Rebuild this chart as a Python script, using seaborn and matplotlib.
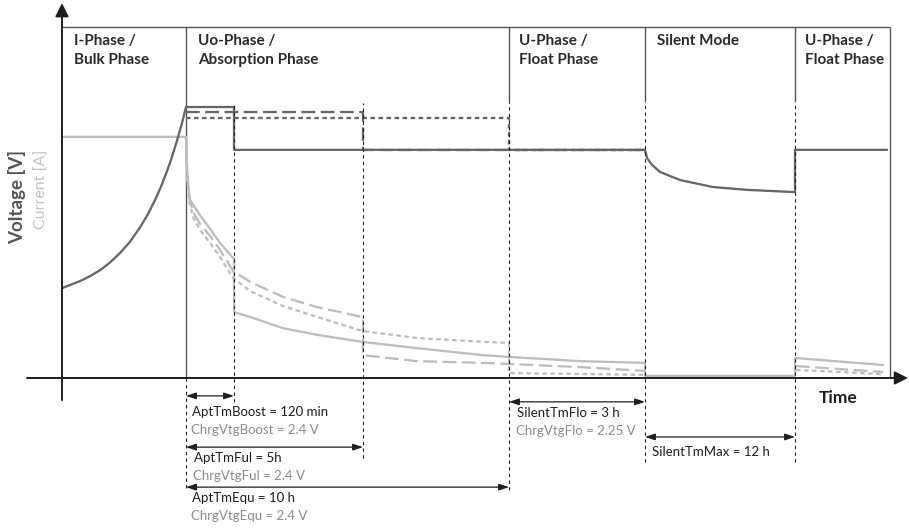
import numpy as np
import pandas as pd
import seaborn as sns
import matplotlib.pyplot as plt

# schematic chart: time in arbitrary units, level in % of the phase box height
t_start = 12.4      # end of bulk phase
t_boost = 17.2
t_ful = 30.1
t_equ = 44.7
t_flo = 58.3
t_silent = 73.3
t_box_end = 82.8

phase_titles = [
    ["I-Phase /", "Bulk Phase"],
    ["Uo-Phase /", "Absorption Phase"],
    ["U-Phase /", "Float Phase"],
    ["Silent Mode"],
    ["U-Phase /", "Float Phase"],
]

# voltage, boost program (solid) incl. bulk rise, float and silent mode
volt_boost_t = [0, 1.8, 2.8, 3.8, 4.8, 5.8, 6.8, 7.8, 8.6, 9.3, 9.9, 10.5,
                11.0, 11.5, 12.0, 12.4,
                17.2, 17.2, 58.3, 58.5, 59.0, 59.8, 61.8, 65.1, 68.5, 73.0, 73.3,
                73.3, 82.5]
volt_boost = [25.6, 27.6, 29.0, 30.7, 32.9, 35.6, 38.8, 42.9, 46.7, 50.7, 54.5, 58.9,
              63.0, 67.6, 72.6, 77.2,
              77.2, 65, 65, 62.7, 60.7, 58.7, 56.4, 54.4, 53.6, 53.0, 53.0,
              65, 65]
volt_ful_t = [12.4, 30.1, 30.1, 58.3]
volt_ful = [75.8, 75.8, 65, 65]
volt_equ_t = [12.4, 44.7, 44.7, 58.3]
volt_equ = [74.1, 74.1, 65, 65]

# current
curr_boost_t = [0, 12.4, 12.5, 12.6, 12.8, 13.8, 14.8, 15.8, 17.1, 17.2,
                17.2, 18.8, 22.1, 25.5, 30.0, 35.5, 42.1, 44.7, 51.8, 58.3,
                58.3, 73.3, 73.3, 82.1]
curr_boost = [68.7, 68.7, 60.7, 55.0, 50.7, 46.4, 42.5, 38.5, 34.2, 34.2,
              18.8, 17.4, 14.2, 12.3, 10.3, 8.5, 6.5, 6.0, 4.8, 4.3,
              0.6, 0.6, 5.7, 3.7]
curr_ful_t = [12.4, 12.5, 12.7, 13.1, 13.8, 14.8, 15.8, 17.1, 18.8, 22.1,
              25.5, 30.0, 30.1, 30.1, 35.5, 42.1, 44.7, 51.8, 58.3]
curr_ful = [68.7, 59.3, 52.1, 47.3, 43.9, 40.5, 36.5, 30.5, 27.4, 23.1,
            20.2, 17.4, 17.4, 6.5, 4.8, 4.3, 4.0, 3.1, 2.0]
curr_ful_after_t = [73.4, 82.1]
curr_ful_after = [3.4, 1.7]
curr_equ_t = [12.4, 12.5, 12.7, 13.1, 13.8, 14.8, 15.8, 17.1, 18.8, 22.1,
              25.5, 30.0, 35.5, 42.1, 44.7, 44.7, 58.3]
curr_equ = [68.7, 57.8, 50.7, 45.9, 42.2, 38.5, 34.5, 28.5, 24.8, 20.5,
            17.4, 13.4, 11.4, 10.3, 10.0, 1.4, 0.9]
curr_equ_after_t = [73.4, 82.1]
curr_equ_after = [2.3, 1.1]

labels_time = [
    ["AptTmBoost = 120 min", "ChrgVtgBoost = 2.4 V"],
    ["AptTmFul = 5h", "ChrgVtgFul = 2.4 V"],
    ["AptTmEqu = 10 h", "ChrgVtgEqu = 2.4 V"],
    ["SilentTmFlo = 3 h", "ChrgVtgFlo = 2.25 V"],
    ["SilentTmMax = 12 h"],
]

segments = [
    ("Voltage", "Boost", volt_boost_t, volt_boost),
    ("Voltage", "Ful", volt_ful_t, volt_ful),
    ("Voltage", "Equ", volt_equ_t, volt_equ),
    ("Current", "Boost", curr_boost_t, curr_boost),
    ("Current", "Ful", curr_ful_t, curr_ful),
    ("Current", "Ful", curr_ful_after_t, curr_ful_after),
    ("Current", "Equ", curr_equ_t, curr_equ),
    ("Current", "Equ", curr_equ_after_t, curr_equ_after),
]
frames = []
for i, (qty, prog, tt, vv) in enumerate(segments):
    frames.append(pd.DataFrame({"t": tt, "level": vv, "quantity": qty,
                                "program": prog, "seg": i}))
df = pd.concat(frames, ignore_index=True)

sns.set_theme(style="white")
plt.rcParams["font.family"] = ["Lato", "DejaVu Sans"]

dark = "#1e1e1e"
volt_col = "#676767"
curr_col = "#bdbdbd"
box_col = "#555555"

fig = plt.figure(figsize=(9.09, 5.28), dpi=100)
ax = fig.add_axes([0, 0, 1, 1])

# phase box
ax.hlines(100, 0, t_box_end, color=box_col, lw=1.0)
ax.vlines([t_start, t_box_end], 0, 100, color=box_col, lw=1.0)
ax.vlines([t_equ, t_flo, t_silent], 79, 100, color=box_col, lw=1.0)

sns.lineplot(data=df, x="t", y="level", hue="quantity", style="program",
             units="seg", estimator=None, sort=False, legend=False,
             palette={"Voltage": volt_col, "Current": curr_col},
             dashes={"Boost": "", "Ful": (6, 2.4), "Equ": (2.0, 1.5)},
             hue_order=["Current", "Voltage"],
             lw=1.65, ax=ax)

# guide lines
ax.vlines([t_start, t_boost, t_ful, t_equ, t_flo, t_silent],
          [-31.3, -6.8, -22.8, -32, -24, -24],
          [0, 78.3, 78.3, 79, 79, 79],
          color=dark, lw=0.8, linestyles=(0, (3, 3)))

# axes with arrow heads
axis_arrow = dict(arrowstyle="-|>", color=dark, lw=1.4, mutation_scale=20,
                  shrinkA=0, shrinkB=0)
ax.annotate("", xy=(84.6, 0), xytext=(-3.5, 0), arrowprops=axis_arrow)
ax.annotate("", xy=(0, 106.8), xytext=(0, -6.3), arrowprops=axis_arrow)

# phase titles
for x0, lines in zip([1.2, 13.6, 45.7, 59.5, 74.3], phase_titles):
    for k, line in enumerate(lines):
        ax.text(x0, 94.9 - 5.4 * k, line, fontsize=11, fontweight="bold",
                color="#2a2a2a", va="baseline", ha="left")

# time spans
dim_arrow = dict(arrowstyle="<|-|>,head_length=0.6,head_width=0.2",
                 color=dark, lw=0.9, mutation_scale=10, shrinkA=0, shrinkB=0)
spans = [(t_start, t_boost, -5.1, 13.0, -9.7),
         (t_start, t_ful, -19.7, 13.2, -22.8),
         (t_start, t_equ, -31.1, 13.0, -34.2),
         (t_equ, t_flo, -6.8, 45.5, -10.0),
         (t_flo, t_silent, -16.8, 59.0, -21.1)]
for (a, b, y, tx, ty), lines in zip(spans, labels_time):
    ax.annotate("", xy=(a, y), xytext=(b, y), arrowprops=dim_arrow)
    ax.text(tx, ty, lines[0], fontsize=9.5, color=dark, va="center", ha="left")
    if len(lines) > 1:
        ax.text(tx - 0.1, ty - 5.2, lines[1], fontsize=9.5, color="#8c8c8c",
                va="center", ha="left")

ax.text(75.7, -5.7, "Time", fontsize=12.5, fontweight="bold", color=dark,
        va="center", ha="left")
ax.text(-4.5, 65, "Voltage [V]", fontsize=13.5, fontweight="bold", color="#555555",
        rotation=90, va="top", ha="center")
ax.text(-2.0, 65, "Current [A]", fontsize=11.5, color="#c4c4c4",
        rotation=90, va="top", ha="center")

ax.set_xlim(-6.2, 84.7)
ax.set_ylim(-42.74, 107.69)
ax.axis("off")

fig.savefig("out.png", dpi=100)
